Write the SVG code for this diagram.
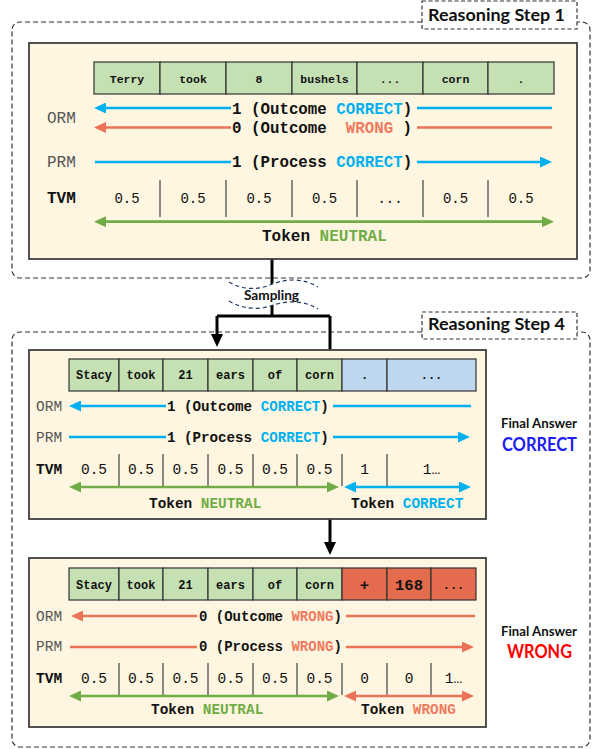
<svg xmlns="http://www.w3.org/2000/svg" width="594" height="749" viewBox="0 0 594 749">
<style>
.frame{fill:none;stroke:#333;stroke-width:1.2;stroke-dasharray:5 3}
.tag{fill:#fff;stroke:#333;stroke-width:1.2;stroke-dasharray:4 2.5}
.tagt{font-family:Lato,"Open Sans",sans-serif;font-weight:bold;font-size:17px;fill:#111}
.panel{fill:#FEF6E0;stroke:#404040;stroke-width:1.8}
.g{fill:#C5E0B3;stroke:#333;stroke-width:1.2}
.b{fill:#BDD7EE;stroke:#333;stroke-width:1.2}
.r{fill:#E56B4E;stroke:#333;stroke-width:1.2}
.m{font-family:"Liberation Mono","Courier New",monospace}
.tk{font-weight:bold;fill:#111;text-anchor:middle}
.lbl{fill:#555}
.bd{font-weight:bold;fill:#111}
.val{fill:#111;text-anchor:middle}
.sep{stroke:#666;stroke-width:1.5}
.lb{stroke:#00B0F0;stroke-width:2.7;fill:none}
.lr{stroke:#EB7256;stroke-width:2.7;fill:none}
.lg{stroke:#70AD47;stroke-width:2.7;fill:none}
.cb{fill:#00B0F0}
.cr{fill:#EF7A5F}
.cg{fill:#70AD47}
.conn{stroke:#000;stroke-width:3;fill:none}
.sans{font-family:Lato,"Open Sans",sans-serif;font-weight:bold}
</style>
<defs>
<marker id="mb" markerUnits="userSpaceOnUse" markerWidth="12" markerHeight="11" refX="3" refY="5.5" orient="auto-start-reverse"><path d="M0,0 L12,5.5 L0,11 Z" fill="#00B0F0"/></marker>
<marker id="mr" markerUnits="userSpaceOnUse" markerWidth="12" markerHeight="11" refX="3" refY="5.5" orient="auto-start-reverse"><path d="M0,0 L12,5.5 L0,11 Z" fill="#EB7256"/></marker>
<marker id="mg" markerUnits="userSpaceOnUse" markerWidth="12" markerHeight="11" refX="3" refY="5.5" orient="auto-start-reverse"><path d="M0,0 L12,5.5 L0,11 Z" fill="#70AD47"/></marker>
<marker id="mk" markerUnits="userSpaceOnUse" markerWidth="13" markerHeight="12" refX="3" refY="6" orient="auto"><path d="M0,0 L13,6 L0,12 Z" fill="#000"/></marker>
</defs>
<rect width="594" height="749" fill="#fff"/>

<g id="step1-frame">
<path class="frame" d="M422,22 H20 A8,8 0 0 0 12,30 V270 A8,8 0 0 0 20,278 H582 A8,8 0 0 0 590,270 V30 A8,8 0 0 0 582,22 H577"/>
<rect class="tag" x="422" y="1" width="155" height="28"/>
<text class="tagt" x="428" y="21" textLength="137" lengthAdjust="spacingAndGlyphs">Reasoning Step 1</text>
</g>

<g id="step4-frame">
<path class="frame" d="M422,332 H20 A8,8 0 0 0 12,340 V739 A8,8 0 0 0 20,747 H582 A8,8 0 0 0 590,739 V340 A8,8 0 0 0 582,332 H577"/>
<rect class="tag" x="422" y="312" width="155" height="27"/>
<text class="tagt" x="428" y="330" textLength="137" lengthAdjust="spacingAndGlyphs">Reasoning Step 4</text>
</g>

<g id="connectors">
<path class="conn" d="M272,259 V316"/>
<path class="conn" d="M217,316 H330"/>
<path class="conn" d="M217,316 V337" marker-end="url(#mk)"/>
<path class="conn" d="M330,316 V350"/>
<path class="conn" d="M330,519 V545" marker-end="url(#mk)"/>
</g>

<g id="sampling">
<path d="M229,282 C242,290 258,290 270,285 S300,276 318,287 L318,309 C300,298 285,300 270,306 S242,309 229,301 Z" fill="#fff"/>
<path d="M229,282 C242,290 258,290 270,285 S300,276 318,287" fill="none" stroke="#1F3864" stroke-width="1.2" stroke-dasharray="4 3"/>
<path d="M229,301 C242,309 258,310 270,306 S300,298 318,309" fill="none" stroke="#1F3864" stroke-width="1.2" stroke-dasharray="4 3"/>
<text class="sans" x="244" y="300" font-size="13.5" fill="#111" textLength="55" lengthAdjust="spacingAndGlyphs">Sampling</text>
</g>

<g id="panel1">
<rect class="panel" x="29" y="43" width="548" height="216"/>
<rect class="g" x="94" y="62" width="66" height="32"/>
<rect class="g" x="160" y="62" width="66" height="32"/>
<rect class="g" x="226" y="62" width="66" height="32"/>
<rect class="g" x="292" y="62" width="65" height="32"/>
<rect class="g" x="357" y="62" width="66" height="32"/>
<rect class="g" x="423" y="62" width="65" height="32"/>
<rect class="g" x="488" y="62" width="66" height="32"/>
<g class="m tk" font-size="11.5">
<text x="127" y="82.5">Terry</text><text x="193" y="82.5">took</text><text x="259" y="82.5">8</text><text x="324.5" y="82.5">bushels</text><text x="390" y="82.5">...</text><text x="455.5" y="82.5">corn</text><text x="521" y="82.5">.</text>
</g>
<text class="m lbl" x="47" y="122.5" font-size="16">ORM</text>
<text class="m lbl" x="47" y="166.5" font-size="16">PRM</text>
<text class="m bd" x="47" y="203" font-size="16">TVM</text>
<path class="lb" d="M552,108 H417"/>
<path class="lb" d="M231,108 H103" marker-end="url(#mb)"/>
<text class="m bd" x="232" y="113.5" font-size="15.8">1 (Outcome <tspan class="cb">CORRECT</tspan>)</text>
<path class="lr" d="M552,127.5 H417"/>
<path class="lr" d="M231,127.5 H103" marker-end="url(#mr)"/>
<text class="m bd" y="132.5" font-size="15.8"><tspan x="232">0 (Outcome</tspan><tspan x="345.8" class="cr">WRONG</tspan><tspan x="402.6">)</tspan></text>
<path class="lb" d="M95,162 H231"/>
<path class="lb" d="M417,162 H543" marker-end="url(#mb)"/>
<text class="m bd" x="232" y="166.5" font-size="15.8">1 (Process <tspan class="cb">CORRECT</tspan>)</text>
<g class="sep"><path d="M160,180 V217 M226,180 V217 M292,180 V217 M357,180 V217 M423,180 V217 M488,180 V217"/></g>
<g class="m val" font-size="14">
<text x="127" y="203">0.5</text><text x="193" y="203">0.5</text><text x="259" y="203">0.5</text><text x="324.5" y="203">0.5</text><text x="390" y="203">...</text><text x="455.5" y="203">0.5</text><text x="521" y="203">0.5</text>
</g>
<path class="lg" d="M103,221.7 H545" marker-start="url(#mg)" marker-end="url(#mg)"/>
<text class="m bd" x="262" y="240.5" font-size="16">Token <tspan class="cg">NEUTRAL</tspan></text>
</g>

<g id="panel2">
<rect class="panel" x="29" y="350" width="457" height="169"/>
<rect class="g" x="69" y="359" width="50" height="32"/>
<rect class="g" x="119" y="359" width="44" height="32"/>
<rect class="g" x="163" y="359" width="45" height="32"/>
<rect class="g" x="208" y="359" width="45" height="32"/>
<rect class="g" x="253" y="359" width="44" height="32"/>
<rect class="g" x="297" y="359" width="45" height="32"/>
<rect class="b" x="342" y="359" width="45" height="32"/>
<rect class="b" x="387" y="359" width="89" height="32"/>
<g class="m tk" font-size="12">
<text x="94" y="378.5">Stacy</text><text x="141" y="378.5">took</text><text x="185.5" y="378.5">21</text><text x="230.5" y="378.5">ears</text><text x="275" y="378.5">of</text><text x="319.5" y="378.5">corn</text><text x="364.5" y="379">.</text><text x="431.5" y="379">...</text>
</g>
<text class="m lbl" x="36" y="411" font-size="14.5">ORM</text>
<text class="m lbl" x="36" y="442" font-size="14.5">PRM</text>
<text class="m bd" x="36" y="474" font-size="14.5">TVM</text>
<path class="lb" d="M471,406 H333"/>
<path class="lb" d="M166,406 H78" marker-end="url(#mb)"/>
<text class="m bd" x="167" y="411" font-size="14.2">1 (Outcome <tspan class="cb">CORRECT</tspan>)</text>
<path class="lb" d="M69,437 H166"/>
<path class="lb" d="M333,437 H461" marker-end="url(#mb)"/>
<text class="m bd" x="167" y="442" font-size="14.2">1 (Process <tspan class="cb">CORRECT</tspan>)</text>
<g class="sep"><path d="M119,454 V486 M163,454 V486 M208,454 V486 M253,454 V486 M297,454 V486 M342,454 V486 M387,454 V486"/></g>
<g class="m val" font-size="14.5">
<text x="94" y="474">0.5</text><text x="141" y="474">0.5</text><text x="185.5" y="474">0.5</text><text x="230.5" y="474">0.5</text><text x="275" y="474">0.5</text><text x="319.5" y="474">0.5</text><text x="364.5" y="474">1</text><text x="431.5" y="474">1…</text>
</g>
<path class="lg" d="M78,487 H330" marker-start="url(#mg)" marker-end="url(#mg)"/>
<path class="lb" d="M353,487 H462" marker-start="url(#mb)" marker-end="url(#mb)"/>
<text class="m bd" x="149" y="507.5" font-size="14.4">Token <tspan class="cg">NEUTRAL</tspan></text>
<text class="m bd" x="351" y="507.5" font-size="14.4">Token <tspan class="cb">CORRECT</tspan></text>
</g>

<g id="panel3">
<rect class="panel" x="29" y="558" width="457" height="169"/>
<rect class="g" x="69" y="568" width="50" height="32"/>
<rect class="g" x="119" y="568" width="44" height="32"/>
<rect class="g" x="163" y="568" width="45" height="32"/>
<rect class="g" x="208" y="568" width="45" height="32"/>
<rect class="g" x="253" y="568" width="44" height="32"/>
<rect class="g" x="297" y="568" width="45" height="32"/>
<rect class="r" x="342" y="568" width="45" height="32"/>
<rect class="r" x="387" y="568" width="44" height="32"/>
<rect class="r" x="431" y="568" width="45" height="32"/>
<g class="m tk" font-size="12">
<text x="94" y="588.5">Stacy</text><text x="141" y="588.5">took</text><text x="185.5" y="588.5">21</text><text x="230.5" y="588.5">ears</text><text x="275" y="588.5">of</text><text x="319.5" y="588.5">corn</text><text x="453.5" y="589">...</text>
</g>
<g class="m tk" font-size="15.5">
<text x="364.5" y="589.5">+</text><text x="409" y="589.5">168</text>
</g>
<text class="m lbl" x="36" y="620.5" font-size="14.5">ORM</text>
<text class="m lbl" x="36" y="651" font-size="14.5">PRM</text>
<text class="m bd" x="36" y="683" font-size="14.5">TVM</text>
<path class="lr" d="M475,616 H346"/>
<path class="lr" d="M197,616 H80" marker-end="url(#mr)"/>
<text class="m bd" x="199" y="620.5" font-size="14">0 (Outcome <tspan class="cr">WRONG</tspan>)</text>
<path class="lr" d="M70,647 H197"/>
<path class="lr" d="M346,647 H465" marker-end="url(#mr)"/>
<text class="m bd" x="199" y="651" font-size="14">0 (Process <tspan class="cr">WRONG</tspan>)</text>
<g class="sep"><path d="M119,663 V695 M163,663 V695 M208,663 V695 M253,663 V695 M297,663 V695 M342,663 V695 M387,663 V695 M431,663 V695"/></g>
<g class="m val" font-size="14.5">
<text x="94" y="683">0.5</text><text x="141" y="683">0.5</text><text x="185.5" y="683">0.5</text><text x="230.5" y="683">0.5</text><text x="275" y="683">0.5</text><text x="319.5" y="683">0.5</text><text x="364.5" y="683">0</text><text x="409" y="683">0</text><text x="453.5" y="683">1…</text>
</g>
<path class="lg" d="M78,696 H330" marker-start="url(#mg)" marker-end="url(#mg)"/>
<path class="lr" d="M353,696 H465" marker-start="url(#mr)" marker-end="url(#mr)"/>
<text class="m bd" x="151" y="714" font-size="14.4">Token <tspan class="cg">NEUTRAL</tspan></text>
<text class="m bd" x="361" y="714" font-size="14.4">Token <tspan class="cr">WRONG</tspan></text>
</g>

<g id="final-correct">
<text class="sans" x="501" y="427.5" font-size="13.5" fill="#111" textLength="76" lengthAdjust="spacingAndGlyphs">Final Answer</text>
<text class="sans" x="502" y="450.5" font-size="19" fill="#2020F0" textLength="75" lengthAdjust="spacingAndGlyphs">CORRECT</text>
</g>
<g id="final-wrong">
<text class="sans" x="501" y="636" font-size="13.5" fill="#111" textLength="76" lengthAdjust="spacingAndGlyphs">Final Answer</text>
<text class="sans" x="507" y="658" font-size="19" fill="#FF0000" textLength="65" lengthAdjust="spacingAndGlyphs">WRONG</text>
</g>
</svg>
